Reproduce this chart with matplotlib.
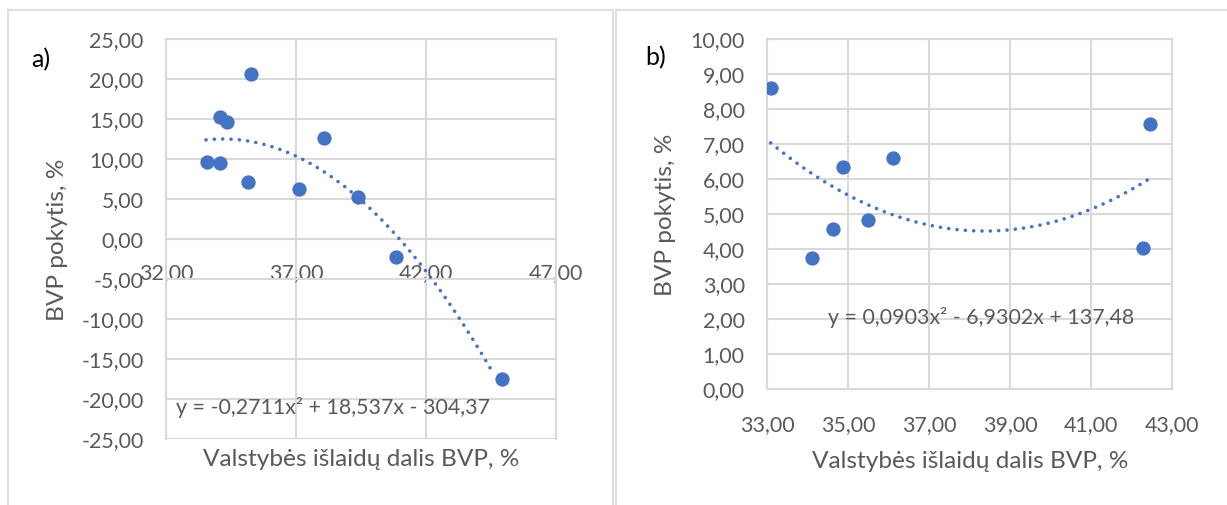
import numpy as np
import matplotlib
matplotlib.use("Agg")
import matplotlib.pyplot as plt
from matplotlib.patches import Rectangle
from matplotlib.ticker import FuncFormatter

plt.rcParams['font.family'] = ['Lato', 'DejaVu Sans']

# a) data
xa = [33.59, 34.07, 34.07, 34.33, 35.27, 35.16, 37.11, 38.08, 39.40, 40.85, 44.92]
ya = [9.66, 9.46, 15.21, 14.66, 20.63, 7.09, 6.25, 12.66, 5.21, -2.29, -17.54]
coef_a = [-0.2711, 18.537, -304.37]
trend_a = [33.54, 44.5]   # x-range the dotted trendline covers
eq_a = "y = -0,2711x² + 18,537x - 304,37"

# b) data
xb = [33.09, 34.10, 34.64, 34.88, 35.49, 36.11, 42.29, 42.46]
yb = [8.60, 3.75, 4.58, 6.35, 4.82, 6.61, 4.03, 7.57]
coef_b = [0.0903, -6.9302, 137.48]
trend_b = [33.09, 42.42]
eq_b = "y = 0,0903x² - 6,9302x + 137,48"

xlab = "Valstybės išlaidų dalis BVP, %"
ylab = "BVP pokytis, %"

blue = '#4472C4'
grey = '#595959'
grid = '#D9D9D9'

W, H = 1227, 505
fig = plt.figure(figsize=(W / 100, H / 100), dpi=100)


def px(x0, y0, x1, y1):
    return [x0 / W, 1 - y1 / H, (x1 - x0) / W, (y1 - y0) / H]


comma = FuncFormatter(lambda v, p: f"{v:.2f}".replace('.', ','))

# panel frames
fig.add_artist(Rectangle((8 / W, 1 - 600 / H), (613 - 8) / W, 590 / H,
                         transform=fig.transFigure, fill=False, ec=grid, lw=1.2))
fig.add_artist(Rectangle((616 / W, 1 - 600 / H), 700 / W, 590 / H,
                         transform=fig.transFigure, fill=False, ec=grid, lw=1.2))


def style(ax, xt, yt):
    ax.set_xticks(xt)
    ax.set_yticks(yt)
    ax.set_xlim(xt[0], xt[-1])
    ax.set_ylim(yt[0], yt[-1])
    ax.xaxis.set_major_formatter(comma)
    ax.yaxis.set_major_formatter(comma)
    ax.grid(True, color=grid, lw=1.5)
    ax.set_axisbelow(True)
    for s in ax.spines.values():
        s.set_color(grid)
        s.set_linewidth(1.5)
    ax.tick_params(length=0, labelsize=15.4, labelcolor=grey)
    ax.tick_params(axis='y', pad=16)
    ax.tick_params(axis='x', pad=17)


# a)
ax1 = fig.add_axes(px(166, 39, 556, 439))
style(ax1, [32, 37, 42, 47], list(range(-25, 26, 5)))
ax1.spines['bottom'].set_position(('data', 0))
ax1.scatter(xa, ya, s=106, color=blue, zorder=3, lw=0)
ta = np.linspace(trend_a[0], trend_a[1], 200)
ax1.plot(ta, np.polyval(coef_a, ta), color=blue, lw=2.6,
         dashes=(0.01, 2.3), dash_capstyle='round', zorder=4, clip_on=False)
ax1.text(176 / W, 1 - 407 / H, eq_a, transform=fig.transFigure,
         fontsize=15.4, color=grey, va='center', ha='left')

# b)
ax2 = fig.add_axes(px(767, 39, 1172, 389))
style(ax2, list(range(33, 44, 2)), list(range(0, 11)))
ax2.tick_params(axis='x', pad=19)
ax2.scatter(xb, yb, s=106, color=blue, zorder=3, lw=0)
tb = np.linspace(trend_b[0], trend_b[1], 200)
ax2.plot(tb, np.polyval(coef_b, tb), color=blue, lw=2.6,
         dashes=(0.01, 2.3), dash_capstyle='round', zorder=2)
ax2.text(981 / W, 1 - 317 / H, eq_b, transform=fig.transFigure,
         fontsize=15.4, color=grey, va='center', ha='center')

# labels
fig.text(361 / W, 1 - 460 / H, xlab, fontsize=17.6, color=grey, ha='center', va='center')
fig.text(970 / W, 1 - 461 / H, xlab, fontsize=17.6, color=grey, ha='center', va='center')
fig.text(58 / W, 1 - 240 / H, ylab, fontsize=17.6, color=grey, ha='center', va='center', rotation=90)
fig.text(665 / W, 1 - 215 / H, ylab, fontsize=17.6, color=grey, ha='center', va='center', rotation=90)
fig.text(41 / W, 1 - 60 / H, "a)", fontsize=18, color='black', ha='center', va='center')
fig.text(656 / W, 1 - 58 / H, "b)", fontsize=18, color='black', ha='center', va='center')

fig.savefig("out.png", dpi=100)
